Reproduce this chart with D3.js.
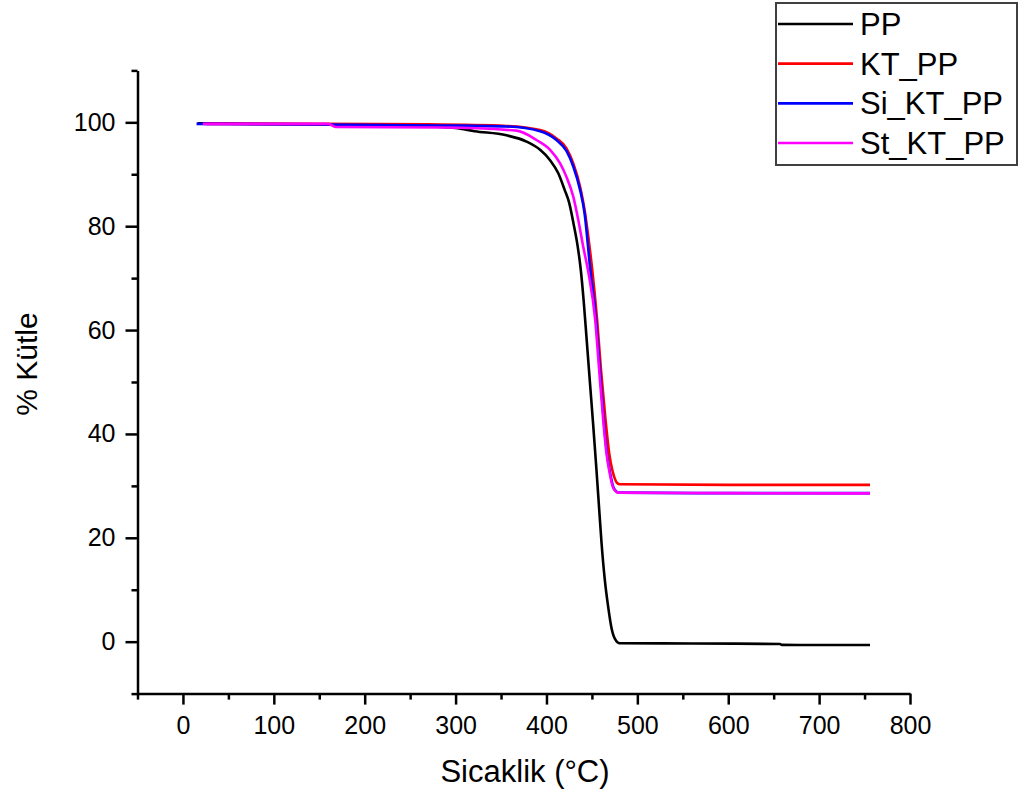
<!DOCTYPE html>
<html>
<head>
<meta charset="utf-8">
<script src="https://cdn.jsdelivr.net/npm/d3@7"></script>
<style>
  html, body { margin: 0; padding: 0; background: #fff; }
  svg text { font-family: "Liberation Sans", Arial, sans-serif; fill: #000; }
</style>
</head>
<body>
<svg id="chart" width="1021" height="796"></svg>
<script>
// TGA curves: temperature (°C) and remaining mass (%)
const ppTemp = [16, 150, 250, 300, 321, 356, 378, 393, 404, 413, 420, 425, 430, 434, 437.5, 441, 444, 447.6, 451.3, 455, 458, 460.6, 464.2, 467.9, 471.6, 475.2, 480.7, 560, 657, 659, 756];
const ppMass = [99.8, 99.6, 99.3, 98.9, 98.3, 97.5, 96.3, 94.7, 92.7, 90.2, 87.0, 84.5, 80.3, 76.5, 72.0, 65.5, 58.7, 50.4, 42.0, 33.1, 25.5, 19.0, 11.9, 6.7, 2.6, 0.6, -0.3, -0.35, -0.45, -0.62, -0.65];

const ktTemp = [26, 150, 270, 356, 393, 411, 422, 429.5, 437, 442, 446, 450.5, 455.7, 460, 465, 469, 472.5, 475, 477.5, 481, 600, 756];
const ktMass = [99.7, 99.7, 99.6, 99.3, 98.5, 96.9, 95.0, 92.1, 87.6, 83.1, 78.0, 71.4, 62, 52.3, 42.7, 36.3, 33, 31.5, 30.6, 30.3, 30.2, 30.2];

const siTemp = [15, 150, 283, 356, 393, 411, 422, 429.5, 437, 442, 448, 454.5, 458.8, 463, 466.5, 470, 473.5, 476.5, 479, 600, 756];
const siMass = [99.7, 99.6, 99.4, 99.2, 98.3, 96.6, 94.5, 91.5, 87.0, 82.4, 72.0, 62, 52.3, 42.7, 36.3, 32.5, 29.8, 29.0, 28.7, 28.6, 28.6];

const stTemp = [22, 160, 168, 283, 367, 389, 404, 415, 422, 429.5, 435, 440.5, 446, 453.6, 458, 462.4, 466, 469.5, 473, 476, 479, 600, 756];
const stMass = [99.7, 99.7, 99.1, 99.0, 98.4, 96.6, 94.7, 92.1, 89.5, 85.7, 81.2, 76.0, 71.2, 62, 52.3, 42.7, 36.3, 32.5, 29.8, 29.0, 28.7, 28.6, 28.55];

const seriesNames = ["PP", "KT_PP", "Si_KT_PP", "St_KT_PP"];
const seriesColors = ["#000000", "#ff0000", "#0000ff", "#ff00ff"];

const xMajorTicks = [0, 100, 200, 300, 400, 500, 600, 700, 800];
const xMinorTicks = [-50, 50, 150, 250, 350, 450, 550, 650, 750];
const yMajorTicks = [0, 20, 40, 60, 80, 100];
const yMinorTicks = [-10, 10, 30, 50, 70, 90, 110];

const series = [
  { name: seriesNames[0], color: seriesColors[0], t: ppTemp, m: ppMass },
  { name: seriesNames[1], color: seriesColors[1], t: ktTemp, m: ktMass },
  { name: seriesNames[2], color: seriesColors[2], t: siTemp, m: siMass },
  { name: seriesNames[3], color: seriesColors[3], t: stTemp, m: stMass }
];

const svg = d3.select("#chart");

const x = d3.scaleLinear().domain([-50, 800]).range([137.5, 910]);
const y = d3.scaleLinear().domain([-10, 110]).range([693.6, 70.4]);
const axisY0 = y(-10);
const axisX0 = x(-50);

// curves
const line = d3.line()
  .x(d => x(d[0]))
  .y(d => y(d[1]))
  .curve(d3.curveMonotoneX);

svg.append("g").selectAll("path")
  .data(series)
  .join("path")
  .attr("d", s => line(s.t.map((t, i) => [t, s.m[i]])))
  .attr("fill", "none")
  .attr("stroke", s => s.color)
  .attr("stroke-width", 2.6)
  .attr("stroke-linejoin", "round");

// x axis
const xAxis = svg.append("g").attr("transform", `translate(0,${axisY0})`);
xAxis.call(d3.axisBottom(x).tickValues(xMajorTicks).tickSize(11).tickPadding(12).tickSizeOuter(0));
const xMinor = svg.append("g").attr("transform", `translate(0,${axisY0})`);
xMinor.call(d3.axisBottom(x).tickValues(xMinorTicks).tickSize(6).tickFormat(""));
xMinor.select(".domain").remove();

// y axis
const yAxis = svg.append("g").attr("transform", `translate(${axisX0},0)`);
yAxis.call(d3.axisLeft(y).tickValues(yMajorTicks).tickSize(12).tickPadding(10).tickSizeOuter(0));
const yMinor = svg.append("g").attr("transform", `translate(${axisX0},0)`);
yMinor.call(d3.axisLeft(y).tickValues(yMinorTicks).tickSize(6).tickFormat(""));
yMinor.select(".domain").remove();

svg.selectAll(".domain, .tick line")
  .attr("stroke", "#000")
  .attr("stroke-width", 2.5);
svg.selectAll(".tick text")
  .attr("font-size", 25)
  .attr("font-family", "'Liberation Sans', Arial, sans-serif")
  .attr("fill", "#000");

// axis titles
svg.append("text")
  .attr("x", 525)
  .attr("y", 782)
  .attr("text-anchor", "middle")
  .attr("font-size", 31)
  .text("Sicaklik (°C)");

svg.append("text")
  .attr("transform", "translate(37,364) rotate(-90)")
  .attr("text-anchor", "middle")
  .attr("font-size", 30)
  .text("% Kütle");

// legend
const legend = svg.append("g");
legend.append("rect")
  .attr("x", 776).attr("y", 3)
  .attr("width", 241).attr("height", 162)
  .attr("fill", "#fff")
  .attr("stroke", "#404040")
  .attr("stroke-width", 2);

const entryY = d3.scalePoint().domain(seriesNames).range([24, 143]);
const entries = legend.selectAll("g.entry")
  .data(series)
  .join("g")
  .attr("class", "entry")
  .attr("transform", s => `translate(0,${entryY(s.name)})`);
entries.append("line")
  .attr("x1", 778).attr("x2", 853)
  .attr("stroke", s => s.color)
  .attr("stroke-width", 2.6);
entries.append("text")
  .attr("x", 860)
  .attr("y", 11)
  .attr("font-size", 31)
  .text(s => s.name);
</script>
</body>
</html>
